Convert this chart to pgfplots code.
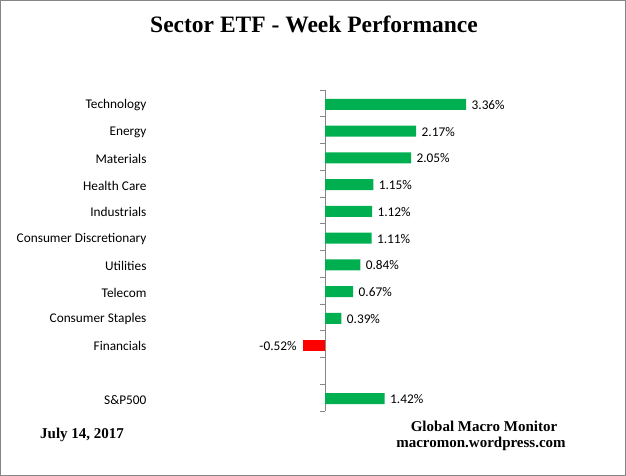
\documentclass[border=0pt]{standalone}
\usepackage{pgfplots}
\pgfplotsset{compat=1.18}
\usepackage{fontspec}
\setmainfont{Liberation Serif}
\newfontfamily\calfont{Carlito}
\definecolor{bargreen}{HTML}{00B050}
\definecolor{barred}{HTML}{FF0000}
\definecolor{axisgray}{HTML}{868686}
\begin{document}
\begin{tikzpicture}[x=1pt,y=1pt]
\path[use as bounding box] (0,0) rectangle (626,476);
\draw[axisgray, line width=1pt] (0.5,0.5) rectangle (625.5,475.5);
\node[anchor=base, font=\fontsize{23.5}{28}\selectfont\bfseries] at (314,443) {Sector ETF - Week Performance};
\node[anchor=base west, font=\fontsize{15}{18}\selectfont\bfseries, inner sep=0pt] at (40,37) {July 14, 2017};
\node[anchor=base, font=\fontsize{15}{18}\selectfont\bfseries, inner sep=0pt] at (484,44) {Global Macro Monitor};
\node[anchor=base, font=\fontsize{15}{18}\selectfont\bfseries, inner sep=0pt] at (481,28) {macromon.wordpress.com};
\begin{axis}[
  at={(241pt,65pt)}, anchor=south west,
  scale only axis, width=294pt, height=321pt,
  xmin=-2, xmax=5, ymin=0.5, ymax=12.5, y dir=reverse,
  axis x line=none, axis y line=center,
  axis line style={draw=axisgray, line width=0.8pt, -},
  ytick={1,...,12},
  yticklabels={Technology,Energy,Materials,Health Care,Industrials,Consumer Discretionary,Utilities,Telecom,Consumer Staples,Financials,,S\&P500},
  major tick length=0pt,
  minor ytick={0.5,1.5,...,12.5},
  minor tick length=5pt, tick align=outside,
  minor tick style={draw=axisgray, line width=0.8pt},
  yticklabel style={anchor=east, xshift=-175pt, yshift=-2pt, font=\fontsize{13.3}{16}\calfont, text=black},
  xbar, bar width=11pt, bar shift=0pt,
  point meta=x,
  nodes near coords={\pgfmathprintnumber[fixed,fixed zerofill,precision=2,assume math mode=true]{\pgfplotspointmeta}\%},
  nodes near coords style={font=\fontsize{13.3}{16}\calfont, text=black},
  clip=false,
]
\addplot[yshift=-1pt, draw=none, fill=bargreen, nodes near coords style={anchor=west, xshift=2pt, yshift=-0.5pt}] coordinates {
(3.36,1) (2.17,2) (2.05,3) (1.15,4) (1.12,5) (1.11,6) (0.84,7) (0.67,8) (0.39,9) (1.42,12)
};
\addplot[yshift=-1pt, draw=none, fill=barred, nodes near coords style={anchor=east, xshift=-3pt, yshift=-0.5pt}] coordinates {
(-0.52,10)
};
\end{axis}
\end{tikzpicture}
\end{document}
